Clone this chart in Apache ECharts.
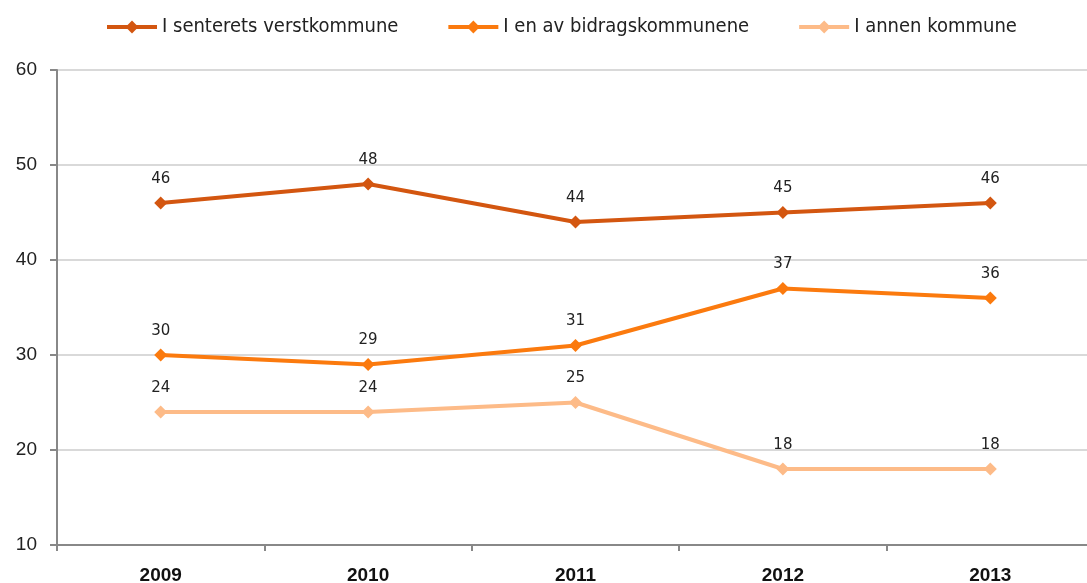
<!DOCTYPE html>
<html>
<head>
<meta charset="utf-8">
<script src="https://cdn.jsdelivr.net/npm/echarts@6/dist/echarts.min.js"></script>
<style>
  html, body { margin: 0; padding: 0; background: #fff; }
  #chart { width: 1087px; height: 583px; }
</style>
</head>
<body>
<div id="chart"></div>
<script>
// data
var years = ['2009', '2010', '2011', '2012', '2013'];
var seriesNames = ['I senterets verstkommune', 'I en av bidragskommunene', 'I annen kommune'];
var verstkommune = [46, 48, 44, 45, 46];
var bidragskommune = [30, 29, 31, 37, 36];
var annenKommune = [24, 24, 25, 18, 18];
var colors = ['#D35610', '#FB7A0E', '#FDBB88'];

var chart = echarts.init(document.getElementById('chart'));

function makeSeries(name, data, color) {
  return {
    name: name,
    type: 'line',
    data: data,
    symbol: 'diamond',
    symbolSize: 13,
    lineStyle: { width: 4, color: color },
    itemStyle: { color: color },
    label: {
      show: true,
      position: 'top',
      distance: 10,
      color: '#222',
      fontSize: 15,
      fontFamily: 'DejaVu Sans'
    }
  };
}

var option = {
  animation: false,
  color: colors,
  legend: {
    top: 12,
    left: 100,
    itemWidth: 50,
    itemHeight: 16,
    itemGap: 48,
    lineStyle: { width: 4 },
    textStyle: { fontSize: 20, color: '#222', fontFamily: 'DejaVu Sans Condensed, Liberation Sans' },
    data: seriesNames
  },
  grid: { left: 57, width: 1037, top: 70, bottom: 38, outerBoundsMode: 'none', containLabel: false },
  xAxis: {
    type: 'category',
    data: years,
    boundaryGap: true,
    axisLine: { lineStyle: { color: '#888', width: 2 } },
    axisTick: { show: true, length: 6, lineStyle: { color: '#888', width: 2 } },
    axisLabel: { fontSize: 19, color: '#111', fontWeight: 'bold', fontFamily: 'Liberation Sans', margin: 21 }
  },
  yAxis: {
    type: 'value',
    min: 10,
    max: 60,
    interval: 10,
    axisLine: { show: true, lineStyle: { color: '#888', width: 2 } },
    axisTick: { show: true, length: 7, lineStyle: { color: '#888', width: 2 } },
    axisLabel: { fontSize: 19, color: '#222', fontFamily: 'Liberation Sans', margin: 20 },
    splitLine: { lineStyle: { color: '#d9d9d9', width: 2 } }
  },
  series: [
    makeSeries(seriesNames[0], verstkommune, colors[0]),
    makeSeries(seriesNames[1], bidragskommune, colors[1]),
    makeSeries(seriesNames[2], annenKommune, colors[2])
  ]
};

chart.setOption(option);
</script>
</body>
</html>
